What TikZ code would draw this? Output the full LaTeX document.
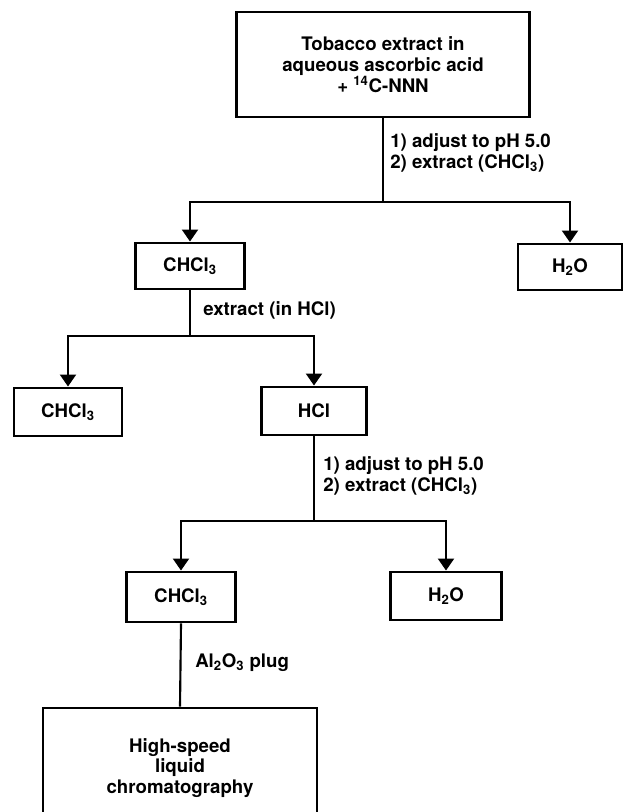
\documentclass[tikz,border=0pt]{standalone}
\usepackage{fontspec}
\setmainfont{TeX Gyre Heros}
\usetikzlibrary{arrows.meta,positioning}

\begin{document}
\begin{tikzpicture}[
    x=0.75pt, y=-0.75pt,
    block/.style={rectangle, draw=black, line width=2.2pt, fill=white,
        align=center, font=\bfseries\fontsize{14}{15.5}\selectfont},
    note/.style={anchor=west, inner sep=0pt, align=left,
        font=\bfseries\fontsize{14}{15.5}\selectfont},
    arrow/.style={-{Triangle[length=9pt, width=12pt]}, line width=1.6pt},
    link/.style={line width=1.6pt}
]
\clip (0,0) rectangle (623,812);

% boxes
\node[block, minimum width=219.75pt, minimum height=78.75pt] (extract) at (383,64.5)
    {Tobacco extract in\\aqueous ascorbic acid\\+ \textsuperscript{14}C-NNN};
\node[block, minimum width=81.75pt, minimum height=34.5pt] (chclA) at (190,266) {CHCl\textsubscript{3}};
\node[block, minimum width=78pt, minimum height=34.5pt] (waterA) at (570,267) {H\textsubscript{2}O};
\node[block, minimum width=81pt, minimum height=36pt] (chclB) at (68,412) {CHCl\textsubscript{3}};
\node[block, minimum width=78.75pt, minimum height=36pt] (hcl) at (314,411) {HCl};
\node[block, minimum width=81.75pt, minimum height=37.5pt] (chclC) at (181,597) {CHCl\textsubscript{3}};
\node[block, minimum width=83.25pt, minimum height=36pt] (waterB) at (446,596) {H\textsubscript{2}O};
\node[block, minimum width=205.5pt, minimum height=90pt] (hplc) at (180,768)
    {High-speed\\liquid\\chromatography};

% branch points
\coordinate (splitA) at (383,202);
\coordinate (splitB) at (190,336);
\coordinate (splitC) at (314,521);

% step labels
\node[note] (stepA) at (390,153) {1) adjust to pH 5.0\\2) extract (CHCl\textsubscript{3})};
\node[note] (stepB) at (203,310) {extract (in HCl)};
\node[note] (stepC) at (323,476) {1) adjust to pH 5.0\\2) extract (CHCl\textsubscript{3})};
\node[note] (stepD) at (195,663) {Al\textsubscript{2}O\textsubscript{3} plug};

% connectors
\draw[link] (extract.south) -- (splitA);
\draw[arrow] (splitA) -| (chclA.north);
\draw[arrow] (splitA) -| (waterA.north);
\draw[link] (chclA.south) -- (splitB);
\draw[arrow] (splitB) -| (chclB.north);
\draw[arrow] (splitB) -| (hcl.north);
\draw[link] (hcl.south) -- (splitC);
\draw[arrow] (splitC) -| (chclC.north);
\draw[arrow] (splitC) -| (waterB.north);
\draw[link] (chclC.south) -- (hplc.north);
\end{tikzpicture}
\end{document}
